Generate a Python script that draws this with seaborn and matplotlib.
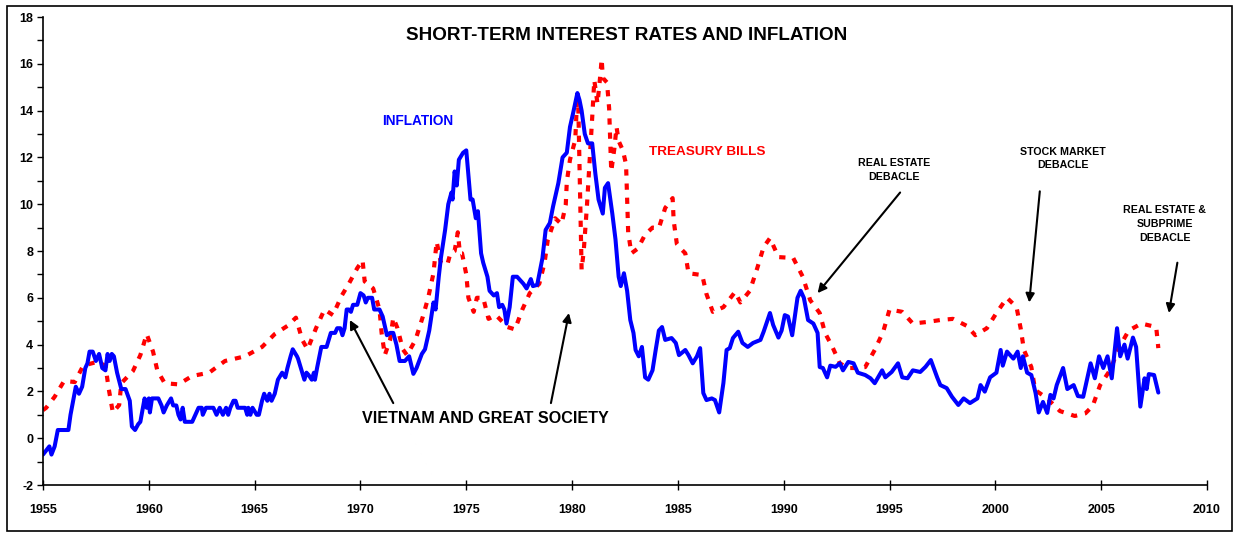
import matplotlib
matplotlib.use("Agg")
import matplotlib.pyplot as plt
import seaborn as sns
from matplotlib.patches import Rectangle

# inflation (blue)
infl_years = [1955.0, 1955.3, 1955.4, 1955.55, 1955.7, 1956.2, 1956.3, 1956.55, 1956.7, 1956.85,
              1957.0, 1957.1, 1957.2, 1957.35, 1957.5, 1957.65, 1957.8, 1957.95, 1958.05, 1958.15,
              1958.25, 1958.35, 1958.5, 1958.7, 1958.9, 1959.1, 1959.2, 1959.35, 1959.5, 1959.6,
              1959.7, 1959.8, 1959.9, 1960.0, 1960.05, 1960.15, 1960.45, 1960.6, 1960.7, 1960.85,
              1961.05, 1961.15, 1961.3, 1961.4, 1961.5, 1961.6, 1961.7, 1962.05, 1962.2, 1962.35,
              1962.5, 1962.55, 1962.7, 1963.05, 1963.2, 1963.35, 1963.5, 1963.65, 1963.75, 1963.85,
              1964.0, 1964.1, 1964.2, 1964.55, 1964.65, 1964.7, 1964.8, 1964.9, 1965.1, 1965.2,
              1965.35, 1965.45, 1965.6, 1965.7, 1965.8, 1965.95, 1966.1, 1966.3, 1966.45, 1966.55,
              1966.7, 1966.8, 1967.0, 1967.05, 1967.25, 1967.35, 1967.45, 1967.55, 1967.7, 1967.8,
              1967.85, 1967.95, 1968.15, 1968.4, 1968.6, 1968.8, 1968.9, 1969.05, 1969.15, 1969.25,
              1969.35, 1969.45, 1969.55, 1969.65, 1969.85, 1970.0, 1970.15, 1970.25, 1970.35, 1970.55,
              1970.65, 1970.9, 1971.05, 1971.25, 1971.4, 1971.55, 1971.7, 1971.85, 1972.1, 1972.3,
              1972.5, 1972.65, 1972.9, 1973.05, 1973.25, 1973.45, 1973.55, 1973.7, 1973.8, 1974.0,
              1974.15, 1974.3, 1974.35, 1974.45, 1974.55, 1974.65, 1974.85, 1975.0, 1975.2, 1975.3,
              1975.45, 1975.55, 1975.7, 1975.8, 1976.0, 1976.1, 1976.3, 1976.45, 1976.55, 1976.7,
              1976.8, 1976.9, 1977.05, 1977.2, 1977.4, 1977.55, 1977.7, 1977.85, 1978.05, 1978.15,
              1978.35, 1978.6, 1978.75, 1978.95, 1979.1, 1979.35, 1979.55, 1979.75, 1979.9, 1980.05,
              1980.25, 1980.35, 1980.45, 1980.6, 1980.75, 1980.95, 1981.1, 1981.25, 1981.45, 1981.55,
              1981.7, 1981.9, 1982.05, 1982.2, 1982.3, 1982.45, 1982.6, 1982.75, 1982.9, 1983.0,
              1983.15, 1983.3, 1983.45, 1983.6, 1983.8, 1983.95, 1984.1, 1984.25, 1984.4, 1984.7,
              1984.9, 1985.05, 1985.35, 1985.5, 1985.7, 1985.9, 1986.05, 1986.2, 1986.35, 1986.6,
              1986.75, 1986.95, 1987.15, 1987.3, 1987.45, 1987.6, 1987.85, 1988.05, 1988.3, 1988.55,
              1988.9, 1989.05, 1989.35, 1989.5, 1989.75, 1989.9, 1990.05, 1990.2, 1990.4, 1990.65,
              1990.8, 1990.95, 1991.15, 1991.4, 1991.6, 1991.7, 1991.85, 1992.05, 1992.2, 1992.45,
              1992.65, 1992.8, 1993.05, 1993.3, 1993.5, 1993.85, 1994.1, 1994.3, 1994.65, 1994.8,
              1995.1, 1995.4, 1995.6, 1995.85, 1996.1, 1996.45, 1996.7, 1996.95, 1997.25, 1997.4,
              1997.7, 1997.95, 1998.25, 1998.5, 1998.8, 1999.15, 1999.3, 1999.5, 1999.75, 2000.05,
              2000.25, 2000.35, 2000.55, 2000.85, 2001.05, 2001.2, 2001.3, 2001.5, 2001.7, 2001.9,
              2002.05, 2002.25, 2002.45, 2002.6, 2002.75, 2002.9, 2003.2, 2003.4, 2003.7, 2003.9,
              2004.15, 2004.5, 2004.7, 2004.9, 2005.1, 2005.3, 2005.5, 2005.75, 2005.9, 2006.1,
              2006.25, 2006.5, 2006.65, 2006.85, 2007.05, 2007.15, 2007.25, 2007.5, 2007.7]
infl_vals = [-0.7, -0.35, -0.7, -0.35, 0.35, 0.35, 1.0, 2.2, 1.9, 2.2,
             3.0, 3.2, 3.7, 3.7, 3.3, 3.6, 3.0, 2.9, 3.6, 3.3,
             3.6, 3.5, 2.8, 2.1, 2.1, 1.6, 0.5, 0.35, 0.6, 0.7,
             1.2, 1.7, 1.3, 1.7, 1.1, 1.7, 1.7, 1.4, 1.1, 1.4,
             1.7, 1.4, 1.4, 1.0, 0.8, 1.3, 0.7, 0.7, 1.0, 1.3,
             1.3, 1.0, 1.3, 1.3, 1.0, 1.3, 1.0, 1.3, 1.0, 1.3,
             1.6, 1.6, 1.3, 1.3, 1.0, 1.3, 1.0, 1.3, 1.0, 1.0,
             1.6, 1.9, 1.6, 1.9, 1.6, 1.9, 2.5, 2.8, 2.6, 3.0,
             3.5, 3.8, 3.5, 3.4, 2.8, 2.5, 2.8, 2.7, 2.5, 2.8,
             2.5, 3.0, 3.9, 3.9, 4.5, 4.5, 4.7, 4.7, 4.4, 4.7,
             5.5, 5.5, 5.4, 5.7, 5.7, 6.2, 6.1, 5.8, 6.0, 6.0,
             5.5, 5.5, 5.2, 4.4, 4.5, 4.5, 4.0, 3.3, 3.3, 3.5,
             2.75, 3.0, 3.6, 3.8, 4.6, 5.8, 5.5, 6.9, 7.7, 8.9,
             10.0, 10.5, 10.2, 11.4, 10.8, 11.9, 12.2, 12.3, 10.2, 10.2,
             9.4, 9.7, 7.9, 7.5, 6.9, 6.3, 6.1, 6.2, 5.6, 5.7,
             5.5, 4.9, 5.6, 6.9, 6.9, 6.75, 6.6, 6.4, 6.8, 6.5,
             6.55, 7.7, 8.9, 9.2, 9.9, 10.9, 12.0, 12.2, 13.3, 13.9,
             14.75, 14.45, 14.0, 13.0, 12.6, 12.6, 11.3, 10.2, 9.6, 10.7,
             10.9, 9.6, 8.5, 6.9, 6.5, 7.05, 6.3, 5.05, 4.5, 3.77,
             3.5, 3.9, 2.6, 2.5, 2.9, 3.77, 4.6, 4.75, 4.2, 4.28,
             4.07, 3.55, 3.77, 3.55, 3.2, 3.5, 3.85, 1.93, 1.63, 1.7,
             1.63, 1.1, 2.36, 3.77, 3.85, 4.28, 4.55, 4.07, 3.9, 4.07,
             4.2, 4.55, 5.35, 4.84, 4.3, 4.6, 5.26, 5.2, 4.4, 6.0,
             6.3, 6.0, 5.05, 4.9, 4.5, 3.04, 3.0, 2.6, 3.1, 3.05,
             3.2, 2.9, 3.26, 3.2, 2.8, 2.7, 2.56, 2.35, 2.9, 2.6,
             2.83, 3.2, 2.6, 2.56, 2.9, 2.83, 3.05, 3.34, 2.6, 2.27,
             2.14, 1.77, 1.42, 1.7, 1.5, 1.7, 2.27, 1.99, 2.6, 2.8,
             3.77, 3.1, 3.7, 3.4, 3.7, 3.0, 3.5, 2.8, 2.7, 1.93,
             1.1, 1.55, 1.08, 1.85, 1.7, 2.27, 3.0, 2.1, 2.27, 1.8,
             1.77, 3.2, 2.56, 3.5, 3.0, 3.5, 2.56, 4.7, 3.5, 4.0,
             3.4, 4.3, 3.9, 1.35, 2.56, 2.1, 2.74, 2.7, 1.95]

# treasury bills (red dotted)
tb_years = [1955.0, 1955.15, 1955.55, 1956.0, 1956.5, 1956.9, 1957.55, 1957.95, 1958.1, 1958.3,
            1958.6, 1958.7, 1959.25, 1959.6, 1959.9, 1960.2, 1960.4, 1960.75, 1961.4, 1962.05,
            1962.85, 1963.6, 1964.55, 1965.35, 1965.95, 1966.55, 1966.95, 1967.25, 1967.5, 1967.9,
            1968.3, 1968.7, 1969.1, 1969.45, 1969.85, 1970.1, 1970.2, 1970.6, 1970.9, 1971.0,
            1971.15, 1971.4, 1971.55, 1971.75, 1972.0, 1972.2, 1972.6, 1972.95, 1973.2, 1973.45,
            1973.6, 1973.8, 1974.1, 1974.25, 1974.45, 1974.6, 1974.7, 1974.8, 1975.0, 1975.1,
            1975.35, 1975.5, 1975.8, 1976.05, 1976.4, 1976.95, 1977.3, 1977.65, 1978.0, 1978.45,
            1978.7, 1978.85, 1979.2, 1979.5, 1979.7, 1979.75, 1979.9, 1980.15, 1980.25, 1980.3,
            1980.45, 1980.55, 1980.7, 1980.95, 1981.05, 1981.2, 1981.3, 1981.4, 1981.45, 1981.65,
            1981.75, 1981.85, 1982.0, 1982.1, 1982.2, 1982.4, 1982.55, 1982.65, 1982.8, 1983.1,
            1983.45, 1983.8, 1984.1, 1984.4, 1984.75, 1984.8, 1984.95, 1985.2, 1985.35, 1985.5,
            1986.15, 1986.35, 1986.65, 1987.15, 1987.7, 1987.95, 1988.4, 1988.75, 1989.05, 1989.35,
            1989.75, 1990.45, 1990.9, 1991.25, 1991.7, 1991.95, 1992.3, 1992.65, 1993.05, 1993.4,
            1993.85, 1994.3, 1994.7, 1995.0, 1995.6, 1996.1, 1996.8, 1997.4, 1998.0, 1998.65,
            1999.05, 1999.6, 2000.05, 2000.55, 2001.0, 2001.2, 2001.35, 2001.7, 2001.88, 2002.45,
            2003.05, 2003.75, 2004.25, 2004.6, 2004.95, 2005.45, 2005.8, 2006.3, 2006.9, 2007.6,
            2007.7]
tb_vals = [1.2, 1.3, 1.77, 2.45, 2.4, 3.1, 3.26, 3.1, 2.14, 1.1,
           1.42, 2.35, 2.87, 3.55, 4.45, 3.7, 2.9, 2.35, 2.3, 2.66,
           2.8, 3.3, 3.5, 3.9, 4.45, 4.8, 5.15, 4.2, 3.8, 4.7,
           5.5, 5.26, 6.07, 6.6, 7.27, 7.6, 6.7, 6.4, 5.5, 4.5,
           3.55, 4.2, 5.15, 4.7, 3.8, 3.55, 4.2, 5.2, 6.0, 7.05,
           8.4, 7.5, 7.4, 7.9, 8.0, 8.8, 7.9, 7.9, 7.0, 6.0,
           5.4, 6.0, 6.0, 5.1, 5.26, 4.75, 4.65, 5.5, 6.2, 6.6,
           7.5, 8.47, 9.4, 9.15, 9.97, 10.95, 11.9, 12.75, 14.75, 13.9,
           7.2, 8.0, 9.9, 13.7, 15.3, 14.3, 15.2, 16.2, 15.4, 15.2,
           14.1, 11.4, 12.4, 13.3, 12.7, 12.3, 11.7, 8.8, 7.9, 8.1,
           8.7, 9.0, 8.98, 9.84, 10.26, 9.3, 8.3, 8.04, 7.9, 7.05,
           6.97, 6.16, 5.4, 5.6, 6.25, 5.8, 6.3, 7.27, 8.17, 8.55,
           7.74, 7.7, 6.9, 5.9, 5.35, 4.5, 3.9, 3.2, 3.0, 3.0,
           3.04, 3.77, 4.55, 5.5, 5.4, 4.9, 4.97, 5.05, 5.1, 4.8,
           4.4, 4.7, 5.35, 6.0, 5.6, 4.67, 3.77, 3.04, 2.06, 1.7,
           1.16, 0.95, 1.06, 1.38, 2.27, 2.95, 3.8, 4.6, 4.9, 4.75,
           3.85]

x_ticks = list(range(1955, 2011, 5))
y_ticks = list(range(-2, 19, 2))

sns.set_style("white")
plt.rcParams['font.family'] = ['Liberation Sans', 'DejaVu Sans']
plt.rcParams['text.color'] = 'black'
plt.rcParams['xtick.color'] = 'black'
plt.rcParams['ytick.color'] = 'black'

fig = plt.figure(figsize=(12.39, 5.35), dpi=100)
ax = fig.add_axes([43 / 1239, 50 / 535, 1164 / 1239, 468 / 535])

sns.lineplot(x=tb_years, y=tb_vals, ax=ax, color='#FF0000', lw=3.0,
             linestyle=(0, (1.5, 1.9)), sort=False, estimator=None)
sns.lineplot(x=infl_years, y=infl_vals, ax=ax, color='#0000FF', lw=2.9,
             sort=False, estimator=None)
ax.lines[0].set_dash_capstyle('butt')

ax.set_xlim(1955, 2010)
ax.set_ylim(-2, 18)
ax.set_xticks(x_ticks)
ax.set_yticks(y_ticks)
ax.set_yticks(range(-1, 18, 2), minor=True)
ax.set_xticklabels([str(t) for t in x_ticks], fontsize=9, fontweight='bold')
ax.set_yticklabels([str(t) for t in y_ticks], fontsize=9, fontweight='bold')
ax.tick_params(axis='y', which='both', direction='out', length=4, width=1,
               left=True, pad=3)
ax.tick_params(axis='x', direction='inout', length=7, width=1,
               bottom=True, pad=10)
for s in ['top', 'right']:
    ax.spines[s].set_visible(False)
for s in ['left', 'bottom']:
    ax.spines[s].set_color('black')
    ax.spines[s].set_linewidth(1.2)
ax.set_xlabel('')
ax.set_ylabel('')

ax.text(1982.6, 17.2, 'SHORT-TERM INTEREST RATES AND INFLATION', ha='center', va='center',
        fontsize=13.6, fontweight='bold')
ax.text(1972.7, 13.55, 'INFLATION', ha='center', va='center', fontsize=9.8,
        fontweight='bold', color='#0000FF')
ax.text(1986.4, 12.25, 'TREASURY BILLS', ha='center', va='center', fontsize=9.7,
        fontweight='bold', color='#FF0000')
ax.text(1975.9, 0.86, 'VIETNAM AND GREAT SOCIETY', ha='center', va='center', fontsize=11.6,
        fontweight='bold')
ax.text(1995.2, 11.45, 'REAL ESTATE\nDEBACLE', ha='center', va='center', fontsize=7.7,
        fontweight='bold', linespacing=1.45)
ax.text(2003.2, 11.95, 'STOCK MARKET\nDEBACLE', ha='center', va='center', fontsize=7.7,
        fontweight='bold', linespacing=1.45)
ax.text(2008.0, 9.15, 'REAL ESTATE &\nSUBPRIME\nDEBACLE', ha='center', va='center',
        fontsize=7.7, fontweight='bold', linespacing=1.45)

arrows = [((1969.5, 5.05), (1971.55, 1.5)),
          ((1979.85, 5.35), (1979.0, 1.5)),
          ((1991.6, 6.2), (1995.5, 10.5)),
          ((2001.6, 5.8), (2002.1, 10.55)),
          ((2008.2, 5.35), (2008.6, 7.5))]
for head, tail in arrows:
    ax.annotate('', xy=head, xytext=tail,
                arrowprops=dict(arrowstyle='-|>', color='black', lw=1.5,
                                mutation_scale=13, shrinkA=0, shrinkB=0))

fig.patches.append(Rectangle((7 / 1239, 4 / 535), 1225 / 1239, 525 / 535,
                             transform=fig.transFigure, fill=False,
                             edgecolor='black', lw=1.2))

fig.savefig('out.png', dpi=100)
